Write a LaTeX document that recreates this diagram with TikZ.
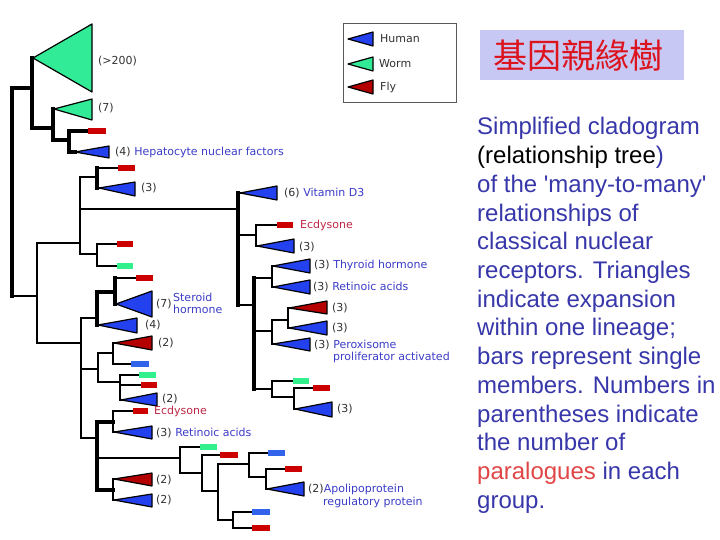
\documentclass[tikz,border=0pt]{standalone}
\usepackage{fontspec}
\setmainfont{DejaVu Sans}
\newfontfamily\rtfont{Liberation Sans}[Ligatures=TeXOff]
\newfontfamily\cjkfont{Noto Sans CJK TC}
\definecolor{triblue}{RGB}{35,65,238}
\definecolor{trigreen}{RGB}{50,235,150}
\definecolor{trired}{RGB}{180,0,0}
\definecolor{barred}{RGB}{205,0,0}
\definecolor{bargreen}{RGB}{50,240,140}
\definecolor{barblue}{RGB}{50,100,235}
\definecolor{lblue}{RGB}{60,60,200}
\definecolor{lgray}{RGB}{50,50,50}
\definecolor{lred}{RGB}{190,40,70}
\definecolor{txtblue}{RGB}{55,55,170}
\definecolor{txtred}{RGB}{225,70,70}
\definecolor{titlebg}{RGB}{200,200,245}
\definecolor{titlered}{RGB}{220,20,30}
\pgfdeclarelayer{bg}
\pgfdeclarelayer{paper}
\pgfsetlayers{paper,bg,main}
\tikzset{
  branch/.style={line width=2.6pt, line cap=rect},
  thk/.style={line width=3.3pt},
  tri/.style={draw=black, line width=1.2pt, line join=round},
  lbl/.style={anchor=west, inner sep=0pt, font=\fontsize{11}{12}\selectfont, text=lgray},
  rt/.style={anchor=base west, inner sep=0pt, font=\rtfont\fontsize{24}{28}\selectfont, text=txtblue},
}
% internal node: [style]{name}{x}{y of entering edge}{top y}{bottom y}
\newcommand\inode[6][]{%
  \coordinate (#2) at (#3,#4);
  \coordinate (#2-t) at (#3,#5);
  \coordinate (#2-b) at (#3,#6);
  \begin{pgfonlayer}{bg}\draw[branch,#1] (#2-t) -- (#2-b);\end{pgfonlayer}}
% connector from parent vertical to child
\newcommand\edge[3][]{%
  \begin{pgfonlayer}{bg}\draw[branch,#1] (#2-t |- #3) -- (#3);\end{pgfonlayer}}
% bar leaf: name, colour, y, x1, x2
\newcommand\leafbar[5]{%
  \coordinate (#1) at (#4,#3);
  \fill[#2] (#4,#3-2.7) rectangle (#5,#3+2.7);}
% triangle leaf: name, colour, apex, right x, top y, bottom y
\newcommand\leaftri[6]{%
  \coordinate (#1) at (#3);
  \filldraw[tri, fill=#2] (#1) -- (#4,#5) -- (#4,#6) -- cycle;}
\begin{document}
\begin{tikzpicture}[x=1pt,y=-1pt]
\useasboundingbox (0,0) rectangle (720,540);
\begin{pgfonlayer}{paper}\fill[white] (0,0) rectangle (720,540);\end{pgfonlayer}

% ---------------- tree ----------------
\inode[thk]{R}{12}{88}{88}{296}
\inode[thk]{A}{32}{88}{58}{128} \edge[thk]{R}{A}
\leaftri{g200}{trigreen}{33,58}{92}{24}{92} \edge{A}{g200}
\inode[thk]{B}{53}{128}{109}{140} \edge[thk]{A}{B}
\leaftri{g7}{trigreen}{54,109}{92}{99}{120} \edge{B}{g7}
\inode[thk]{C}{69}{140}{131}{152} \edge[thk]{B}{C}
\leafbar{rC}{barred}{131}{88}{106} \edge[thk]{C}{rC}
\leaftri{hnf}{triblue}{75,152}{109}{146}{158} \edge[thk]{C}{hnf}

\inode{D}{37}{296}{243}{343} \edge{R}{D}
\inode{E}{80}{243}{177}{254} \edge{D}{E}
\inode[thk]{F}{97}{177}{168}{188} \edge{E}{F}
\leafbar{rF}{barred}{168}{118}{135} \edge{F}{rF}
\leaftri{bF}{triblue}{99,188}{135}{182}{196} \edge{F}{bF}

\inode[thk]{G}{238}{209}{193}{305} \edge{E}{G}
\leaftri{vd}{triblue}{240,193}{277}{186}{200} \edge{G}{vd}
\inode{H}{256}{235}{225}{246} \edge{G}{H}
\leafbar{rH}{barred}{225}{277}{293} \edge{H}{rH}
\leaftri{bH}{triblue}{257,246}{294}{239}{253} \edge{H}{bH}
\inode[thk]{I}{254}{305}{278}{389} \edge{G}{I}
\inode{J}{272}{278}{266}{287} \edge{I}{J}
\leaftri{th}{triblue}{273,266}{310}{259}{273} \edge{J}{th}
\leaftri{ra}{triblue}{273,287}{310}{280}{294} \edge{J}{ra}
\inode{K}{272}{331}{320}{344} \edge{I}{K}
\inode{L}{288}{320}{308}{328} \edge{K}{L}
\leaftri{rL}{trired}{289,308}{327}{301}{314} \edge{L}{rL}
\leaftri{bL}{triblue}{289,328}{327}{321}{335} \edge{L}{bL}
\leaftri{px}{triblue}{273,344}{310}{338}{351} \edge{K}{px}
\inode{M}{272}{389}{381}{397} \edge{I}{M}
\leafbar{gM}{bargreen}{381}{293}{309} \edge{M}{gM}
\inode{N}{294}{397}{388}{409} \edge{M}{N}
\leafbar{rN}{barred}{388}{313}{330} \edge{N}{rN}
\leaftri{bN}{triblue}{295,409}{332}{402}{417} \edge{N}{bN}

\inode{O}{97}{254}{244}{266} \edge{E}{O}
\leafbar{rO}{barred}{244}{117}{133} \edge{O}{rO}
\leafbar{gO}{bargreen}{266}{117}{133} \edge{O}{gO}

\inode{P}{81}{343}{318}{438} \edge{D}{P}
\inode[thk]{Q}{97}{318}{292}{325} \edge{P}{Q}
\inode[thk]{S}{115}{292}{278}{304} \edge[thk]{Q}{S}
\leafbar{rS}{barred}{278}{136}{153} \edge{S}{rS}
\leaftri{st}{triblue}{116,304}{152}{291}{317} \edge{S}{st}
\leaftri{b4}{triblue}{98,325}{137}{318}{333} \edge{Q}{b4}

\inode{T}{98}{369}{353}{382} \edge{P}{T}
\inode{U}{113}{353}{343}{364} \edge{T}{U}
\leaftri{rU}{trired}{114,343}{152}{336}{350} \edge{U}{rU}
\leafbar{bU}{barblue}{364}{131}{149} \edge{U}{bU}
\inode{V}{120}{382}{375}{400} \edge{T}{V}
\leafbar{gV}{bargreen}{375}{139}{156} \edge{V}{gV}
\leafbar{rV}{barred}{385}{141}{157} \edge{V}{rV}
\leaftri{bV}{triblue}{121,400}{157}{393}{406} \edge{V}{bV}

\inode[thk]{W}{97}{438}{422}{490} \edge{P}{W}
\inode{X}{113}{422}{411}{432} \edge[thk]{W}{X}
\leafbar{rX}{barred}{411}{133}{148} \edge{X}{rX}
\leaftri{bX}{triblue}{114,432}{152}{426}{439} \edge{X}{bX}
\inode{Y}{180}{458}{447}{473} \edge{W}{Y}
\leafbar{gY}{bargreen}{447}{200}{217} \edge{Y}{gY}
\inode{Z}{202}{473}{455}{491} \edge{Y}{Z}
\leafbar{rZ}{barred}{455}{220}{238} \edge{Z}{rZ}
\inode{AA}{218}{491}{464}{520} \edge{Z}{AA}
\inode{AB}{249}{464}{453}{477} \edge{AA}{AB}
\leafbar{bAB}{barblue}{453}{268}{285} \edge{AB}{bAB}
\inode{AC}{266}{477}{469}{489} \edge{AB}{AC}
\leafbar{rAC}{barred}{469}{285}{302} \edge{AC}{rAC}
\leaftri{apo}{triblue}{267,489}{304}{482}{496} \edge{AC}{apo}
\inode{AD}{233}{520}{512}{528} \edge{AA}{AD}
\leafbar{bAD}{barblue}{512}{252}{270} \edge{AD}{bAD}
\leafbar{rAD}{barred}{528}{252}{270} \edge{AD}{rAD}
\inode{AE}{113}{490}{479}{500} \edge[thk]{W}{AE}
\leaftri{rAE}{trired}{114,479}{152}{473}{486} \edge{AE}{rAE}
\leaftri{bAE}{triblue}{114,500}{152}{494}{507} \edge{AE}{bAE}

% ---------------- tree labels ----------------
\node[lbl] (l200) at (98,61) {(>200)};
\node[lbl] (l7) at (98,108) {(7)};
\node[lbl] (lhnf) at (115,152) {(4) \textcolor{lblue}{Hepatocyte nuclear factors}};
\node[lbl] (lbF) at (141,188) {(3)};
\node[lbl] (lvd) at (284,193) {(6) \textcolor{lblue}{Vitamin D3}};
\node[lbl, text=lred] (lrH) at (300,225) {Ecdysone};
\node[lbl] (lbH) at (299,247) {(3)};
\node[lbl] (lth) at (314,265) {(3) \textcolor{lblue}{Thyroid hormone}};
\node[lbl] (lra) at (313,287) {(3) \textcolor{lblue}{Retinoic acids}};
\node[lbl] (lrL) at (332,308) {(3)};
\node[lbl] (lbL) at (332,328) {(3)};
\node[lbl] (lpx) at (314,345) {(3) \textcolor{lblue}{Peroxisome}};
\node[lbl, text=lblue] (lpx2) at (333,357) {proliferator activated};
\node[lbl] (lbN) at (337,409) {(3)};
\node[lbl] (lst) at (156,304) {(7)};
\node[lbl, text=lblue] (lst1) at (173,297) {Steroid};
\node[lbl, text=lblue] (lst2) at (173,309) {hormone};
\node[lbl] (lb4) at (145,325) {(4)};
\node[lbl] (lrU) at (158,343) {(2)};
\node[lbl] (lbV) at (162,399) {(2)};
\node[lbl, text=lred] (lrX) at (154,411) {Ecdysone};
\node[lbl] (lbX) at (156,433) {(3) \textcolor{lblue}{Retinoic acids}};
\node[lbl] (lrAE) at (156,480) {(2)};
\node[lbl] (lbAE) at (156,500) {(2)};
\node[lbl] (lapo) at (308,489) {(2)\textcolor{lblue}{Apolipoprotein}};
\node[lbl, text=lblue] (lapo2) at (323,502) {regulatory protein};

% ---------------- legend ----------------
\draw[draw=black!65, line width=0.9pt] (343,23) rectangle (456,102);
\filldraw[tri, fill=triblue] (348,39) -- (373,32) -- (373,46) -- cycle;
\filldraw[tri, fill=trigreen] (348,64) -- (373,57) -- (373,71) -- cycle;
\filldraw[tri, fill=trired] (348,87) -- (373,80) -- (373,94) -- cycle;
\node[lbl] (hum) at (380,39) {Human};
\node[lbl] (wrm) at (379,64) {Worm};
\node[lbl] (fly) at (380,87) {Fly};

% ---------------- title ----------------
\fill[titlebg] (480,30) rectangle (684,80);
\node[inner sep=0pt, text=titlered] (title) at (578,56) {\cjkfont\fontsize{34}{34}\selectfont 基因親緣樹};

% ---------------- description ----------------
\node[rt] (t1) at (477,135.0) {Simplified cladogram};
\node[rt] (t2) at (477,163.7) {{\color{black}(relationship tree})};
\node[rt] (t3) at (477,192.4) {of the 'many-to-many'};
\node[rt] (t4) at (477,221.1) {relationships of};
\node[rt] (t5) at (477,249.8) {classical nuclear};
\node[rt] (t6) at (477,278.5) {receptors. Triangles};
\node[rt] (t7) at (477,307.2) {indicate expansion};
\node[rt] (t8) at (477,335.9) {within one lineage;};
\node[rt] (t9) at (477,364.6) {bars represent single};
\node[rt] (t10) at (477,393.3) {members. Numbers in};
\node[rt] (t11) at (477,422.0) {parentheses indicate};
\node[rt] (t12) at (477,450.7) {the number of};
\node[rt] (t13) at (477,479.4) {{\color{txtred}paralogues} in each};
\node[rt] (t14) at (477,508.1) {group.};
\end{tikzpicture}
\end{document}
